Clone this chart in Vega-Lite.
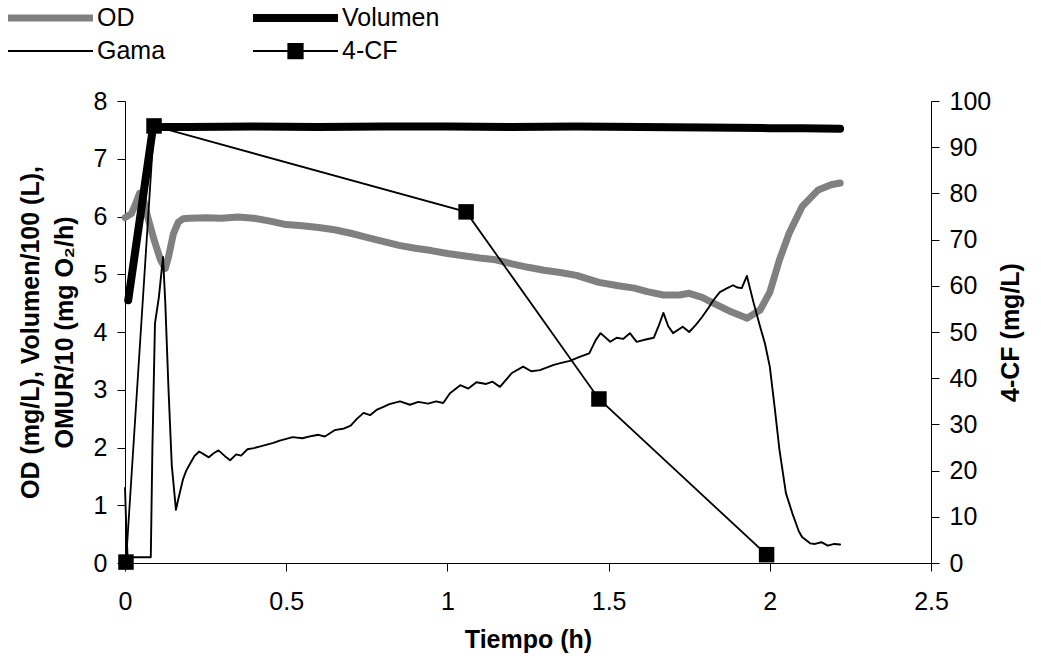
{
  "$schema": "https://vega.github.io/schema/vega-lite/v6.json",
  "width": 806,
  "height": 462,
  "autosize": {"type": "none"},
  "padding": {"left": 125, "top": 101, "right": 110, "bottom": 102},
  "background": "white",
  "config": {
    "view": {"stroke": null},
    "font": "Liberation Sans",
    "axis": {
      "grid": false,
      "domainColor": "#000",
      "tickColor": "#000",
      "labelColor": "#000",
      "titleColor": "#000",
      "labelFont": "Liberation Sans",
      "titleFont": "Liberation Sans",
      "labelFontSize": 25,
      "titleFontSize": 25,
      "titleFontWeight": "bold",
      "tickSize": 8,
      "labelPadding": 10,
      "labelFlush": false
    }
  },
  "datasets": {
    "left": [
      {"t": 0.0, "v": 5.98, "series": "OD"},
      {"t": 0.02, "v": 6.05, "series": "OD"},
      {"t": 0.035, "v": 6.25, "series": "OD"},
      {"t": 0.045, "v": 6.4, "series": "OD"},
      {"t": 0.055, "v": 6.35, "series": "OD"},
      {"t": 0.07, "v": 6.0, "series": "OD"},
      {"t": 0.09, "v": 5.6, "series": "OD"},
      {"t": 0.11, "v": 5.25, "series": "OD"},
      {"t": 0.125, "v": 5.1, "series": "OD"},
      {"t": 0.135, "v": 5.3, "series": "OD"},
      {"t": 0.15, "v": 5.7, "series": "OD"},
      {"t": 0.165, "v": 5.9, "series": "OD"},
      {"t": 0.18, "v": 5.96, "series": "OD"},
      {"t": 0.2, "v": 5.97, "series": "OD"},
      {"t": 0.25, "v": 5.98, "series": "OD"},
      {"t": 0.3, "v": 5.97, "series": "OD"},
      {"t": 0.35, "v": 5.99, "series": "OD"},
      {"t": 0.4, "v": 5.97, "series": "OD"},
      {"t": 0.45, "v": 5.92, "series": "OD"},
      {"t": 0.5, "v": 5.86, "series": "OD"},
      {"t": 0.55, "v": 5.84, "series": "OD"},
      {"t": 0.6, "v": 5.81, "series": "OD"},
      {"t": 0.65, "v": 5.77, "series": "OD"},
      {"t": 0.7, "v": 5.71, "series": "OD"},
      {"t": 0.75, "v": 5.64, "series": "OD"},
      {"t": 0.8, "v": 5.57, "series": "OD"},
      {"t": 0.85, "v": 5.5, "series": "OD"},
      {"t": 0.9, "v": 5.45, "series": "OD"},
      {"t": 0.95, "v": 5.41, "series": "OD"},
      {"t": 1.0, "v": 5.36, "series": "OD"},
      {"t": 1.05, "v": 5.32, "series": "OD"},
      {"t": 1.1, "v": 5.28, "series": "OD"},
      {"t": 1.15, "v": 5.25, "series": "OD"},
      {"t": 1.2, "v": 5.18, "series": "OD"},
      {"t": 1.25, "v": 5.12, "series": "OD"},
      {"t": 1.3, "v": 5.07, "series": "OD"},
      {"t": 1.35, "v": 5.03, "series": "OD"},
      {"t": 1.4, "v": 4.98, "series": "OD"},
      {"t": 1.47, "v": 4.86, "series": "OD"},
      {"t": 1.53, "v": 4.8, "series": "OD"},
      {"t": 1.58, "v": 4.76, "series": "OD"},
      {"t": 1.62, "v": 4.7, "series": "OD"},
      {"t": 1.67, "v": 4.64, "series": "OD"},
      {"t": 1.72, "v": 4.64, "series": "OD"},
      {"t": 1.75, "v": 4.67, "series": "OD"},
      {"t": 1.79, "v": 4.6, "series": "OD"},
      {"t": 1.825, "v": 4.5, "series": "OD"},
      {"t": 1.88, "v": 4.35, "series": "OD"},
      {"t": 1.93, "v": 4.24, "series": "OD"},
      {"t": 1.97, "v": 4.38, "series": "OD"},
      {"t": 2.0, "v": 4.69, "series": "OD"},
      {"t": 2.03, "v": 5.25, "series": "OD"},
      {"t": 2.06, "v": 5.71, "series": "OD"},
      {"t": 2.1, "v": 6.17, "series": "OD"},
      {"t": 2.15, "v": 6.46, "series": "OD"},
      {"t": 2.19, "v": 6.55, "series": "OD"},
      {"t": 2.218, "v": 6.58, "series": "OD"},
      {"t": 0.0, "v": 1.3, "series": "Gama"},
      {"t": 0.004, "v": 0.6, "series": "Gama"},
      {"t": 0.008, "v": 0.1, "series": "Gama"},
      {"t": 0.08, "v": 0.1, "series": "Gama"},
      {"t": 0.085, "v": 2.0, "series": "Gama"},
      {"t": 0.093, "v": 4.15, "series": "Gama"},
      {"t": 0.105, "v": 4.6, "series": "Gama"},
      {"t": 0.118, "v": 5.3, "series": "Gama"},
      {"t": 0.125, "v": 4.5, "series": "Gama"},
      {"t": 0.135, "v": 3.0, "series": "Gama"},
      {"t": 0.145, "v": 1.7, "series": "Gama"},
      {"t": 0.158, "v": 0.92, "series": "Gama"},
      {"t": 0.165, "v": 1.1, "series": "Gama"},
      {"t": 0.18, "v": 1.45, "series": "Gama"},
      {"t": 0.19, "v": 1.6, "series": "Gama"},
      {"t": 0.2, "v": 1.7, "series": "Gama"},
      {"t": 0.215, "v": 1.85, "series": "Gama"},
      {"t": 0.23, "v": 1.93, "series": "Gama"},
      {"t": 0.245, "v": 1.88, "series": "Gama"},
      {"t": 0.26, "v": 1.83, "series": "Gama"},
      {"t": 0.275, "v": 1.9, "series": "Gama"},
      {"t": 0.29, "v": 1.95, "series": "Gama"},
      {"t": 0.31, "v": 1.85, "series": "Gama"},
      {"t": 0.326, "v": 1.78, "series": "Gama"},
      {"t": 0.345, "v": 1.88, "series": "Gama"},
      {"t": 0.36, "v": 1.86, "series": "Gama"},
      {"t": 0.38, "v": 1.97, "series": "Gama"},
      {"t": 0.4, "v": 1.99, "series": "Gama"},
      {"t": 0.42, "v": 2.02, "series": "Gama"},
      {"t": 0.44, "v": 2.05, "series": "Gama"},
      {"t": 0.46, "v": 2.08, "series": "Gama"},
      {"t": 0.48, "v": 2.12, "series": "Gama"},
      {"t": 0.5, "v": 2.15, "series": "Gama"},
      {"t": 0.52, "v": 2.18, "series": "Gama"},
      {"t": 0.55, "v": 2.16, "series": "Gama"},
      {"t": 0.58, "v": 2.2, "series": "Gama"},
      {"t": 0.6, "v": 2.22, "series": "Gama"},
      {"t": 0.62, "v": 2.19, "series": "Gama"},
      {"t": 0.65, "v": 2.3, "series": "Gama"},
      {"t": 0.68, "v": 2.33, "series": "Gama"},
      {"t": 0.7, "v": 2.38, "series": "Gama"},
      {"t": 0.72, "v": 2.5, "series": "Gama"},
      {"t": 0.74, "v": 2.6, "series": "Gama"},
      {"t": 0.76, "v": 2.56, "series": "Gama"},
      {"t": 0.78, "v": 2.65, "series": "Gama"},
      {"t": 0.8, "v": 2.7, "series": "Gama"},
      {"t": 0.82, "v": 2.75, "series": "Gama"},
      {"t": 0.853, "v": 2.8, "series": "Gama"},
      {"t": 0.884, "v": 2.74, "series": "Gama"},
      {"t": 0.91, "v": 2.79, "series": "Gama"},
      {"t": 0.94, "v": 2.76, "series": "Gama"},
      {"t": 0.965, "v": 2.8, "series": "Gama"},
      {"t": 0.987, "v": 2.77, "series": "Gama"},
      {"t": 1.008, "v": 2.94, "series": "Gama"},
      {"t": 1.04, "v": 3.08, "series": "Gama"},
      {"t": 1.065, "v": 3.02, "series": "Gama"},
      {"t": 1.09, "v": 3.13, "series": "Gama"},
      {"t": 1.12, "v": 3.1, "series": "Gama"},
      {"t": 1.14, "v": 3.14, "series": "Gama"},
      {"t": 1.163, "v": 3.05, "series": "Gama"},
      {"t": 1.2, "v": 3.29, "series": "Gama"},
      {"t": 1.235, "v": 3.4, "series": "Gama"},
      {"t": 1.26, "v": 3.32, "series": "Gama"},
      {"t": 1.287, "v": 3.34, "series": "Gama"},
      {"t": 1.33, "v": 3.43, "series": "Gama"},
      {"t": 1.35, "v": 3.46, "series": "Gama"},
      {"t": 1.38, "v": 3.5, "series": "Gama"},
      {"t": 1.41, "v": 3.57, "series": "Gama"},
      {"t": 1.44, "v": 3.63, "series": "Gama"},
      {"t": 1.46, "v": 3.86, "series": "Gama"},
      {"t": 1.475, "v": 3.98, "series": "Gama"},
      {"t": 1.505, "v": 3.83, "series": "Gama"},
      {"t": 1.525, "v": 3.9, "series": "Gama"},
      {"t": 1.545, "v": 3.88, "series": "Gama"},
      {"t": 1.566, "v": 3.98, "series": "Gama"},
      {"t": 1.587, "v": 3.83, "series": "Gama"},
      {"t": 1.615, "v": 3.87, "series": "Gama"},
      {"t": 1.64, "v": 3.9, "series": "Gama"},
      {"t": 1.655, "v": 4.1, "series": "Gama"},
      {"t": 1.67, "v": 4.33, "series": "Gama"},
      {"t": 1.685, "v": 4.1, "series": "Gama"},
      {"t": 1.7, "v": 3.98, "series": "Gama"},
      {"t": 1.73, "v": 4.09, "series": "Gama"},
      {"t": 1.75, "v": 4.0, "series": "Gama"},
      {"t": 1.77, "v": 4.12, "series": "Gama"},
      {"t": 1.79, "v": 4.26, "series": "Gama"},
      {"t": 1.81, "v": 4.42, "series": "Gama"},
      {"t": 1.825, "v": 4.55, "series": "Gama"},
      {"t": 1.845, "v": 4.69, "series": "Gama"},
      {"t": 1.865, "v": 4.75, "series": "Gama"},
      {"t": 1.886, "v": 4.81, "series": "Gama"},
      {"t": 1.9, "v": 4.77, "series": "Gama"},
      {"t": 1.913, "v": 4.76, "series": "Gama"},
      {"t": 1.929, "v": 4.97, "series": "Gama"},
      {"t": 1.95, "v": 4.5, "series": "Gama"},
      {"t": 1.97, "v": 4.09, "series": "Gama"},
      {"t": 1.985, "v": 3.8, "series": "Gama"},
      {"t": 2.0, "v": 3.4, "series": "Gama"},
      {"t": 2.015, "v": 2.7, "series": "Gama"},
      {"t": 2.03, "v": 1.96, "series": "Gama"},
      {"t": 2.05, "v": 1.21, "series": "Gama"},
      {"t": 2.07, "v": 0.86, "series": "Gama"},
      {"t": 2.09, "v": 0.55, "series": "Gama"},
      {"t": 2.1, "v": 0.45, "series": "Gama"},
      {"t": 2.125, "v": 0.34, "series": "Gama"},
      {"t": 2.14, "v": 0.33, "series": "Gama"},
      {"t": 2.16, "v": 0.36, "series": "Gama"},
      {"t": 2.18, "v": 0.3, "series": "Gama"},
      {"t": 2.2, "v": 0.33, "series": "Gama"},
      {"t": 2.218, "v": 0.32, "series": "Gama"},
      {"t": 0.01, "v": 4.55, "series": "Volumen"},
      {"t": 0.087, "v": 7.55, "series": "Volumen"},
      {"t": 0.2, "v": 7.55, "series": "Volumen"},
      {"t": 0.4, "v": 7.56, "series": "Volumen"},
      {"t": 0.6, "v": 7.55, "series": "Volumen"},
      {"t": 0.8, "v": 7.56, "series": "Volumen"},
      {"t": 1.0, "v": 7.56, "series": "Volumen"},
      {"t": 1.2, "v": 7.55, "series": "Volumen"},
      {"t": 1.4, "v": 7.56, "series": "Volumen"},
      {"t": 1.6, "v": 7.55, "series": "Volumen"},
      {"t": 1.8, "v": 7.54, "series": "Volumen"},
      {"t": 2.0, "v": 7.53, "series": "Volumen"},
      {"t": 2.1, "v": 7.53, "series": "Volumen"},
      {"t": 2.218, "v": 7.52, "series": "Volumen"}
    ],
    "cf": [
      {"t": 0.003, "c": 0.2, "series": "4-CF"},
      {"t": 0.09, "c": 94.6, "series": "4-CF"},
      {"t": 1.058, "c": 76.0, "series": "4-CF"},
      {"t": 1.47, "c": 35.5, "series": "4-CF"},
      {"t": 1.99, "c": 1.8, "series": "4-CF"}
    ]
  },
  "layer": [
    {
      "data": {"name": "left"},
      "mark": {"type": "line", "strokeCap": "round", "strokeJoin": "round"},
      "encoding": {
        "x": {
          "field": "t", "type": "quantitative",
          "scale": {"domain": [0, 2.5], "nice": false, "zero": false},
          "axis": {"values": [0, 0.5, 1, 1.5, 2, 2.5], "labelExpr": "datum.value == 0 ? '0' : format(datum.value, '~g')", "labelFlush": false, "title": "Tiempo (h)", "labelPadding": 18, "titlePadding": 13}
        },
        "y": {
          "field": "v", "type": "quantitative",
          "scale": {"domain": [0, 8], "nice": false},
          "axis": {"orient": "left", "values": [0, 1, 2, 3, 4, 5, 6, 7, 8], "labelFlush": false, "title": ["OD (mg/L), Volumen/100 (L),", "OMUR/10 (mg O₂/h)"], "titlePadding": 16, "titleLineHeight": 34}
        },
        "color": {
          "field": "series", "type": "nominal",
          "scale": {"domain": ["OD", "Volumen", "Gama", "4-CF"], "range": ["#808080", "#000000", "#000000", "#000000"]},
          "legend": {
            "orient": "none", "legendX": -121, "legendY": -95, "columns": 2, "direction": "horizontal", "title": null,
            "symbolSize": 7225, "labelFontSize": 25, "labelFont": "Liberation Sans", "labelColor": "#000",
            "clipHeight": 24, "rowPadding": 8, "columnPadding": 83, "labelOffset": 0, "padding": 0,
            "symbolOpacity": 1,
            "encode": {"symbols": {"update": {"fill": {"value": "#000"}, "opacity": {"value": 1}}}}
          }
        },
        "strokeWidth": {
          "field": "series", "type": "nominal",
          "scale": {"type": "ordinal", "domain": ["OD", "Volumen", "Gama", "4-CF"], "range": [7, 8, 1.9, 1.8]},
          "legend": {}
        },
        "detail": {"field": "series"}
      }
    },
    {
      "data": {"name": "cf"},
      "encoding": {
        "x": {"field": "t", "type": "quantitative", "scale": {"domain": [0, 2.5], "nice": false, "zero": false}},
        "y": {
          "field": "c", "type": "quantitative",
          "scale": {"domain": [0, 100], "nice": false},
          "axis": {
            "orient": "right", "values": [0, 10, 20, 30, 40, 50, 60, 70, 80, 90, 100], "labelFlush": false,
            "title": "4-CF (mg/L)", "titleAngle": 270, "titleBaseline": "top", "titlePadding": 8,
            "encode": {"ticks": {"update": {"x": {"value": -8}}}}
          }
        }
      },
      "layer": [
        {
          "mark": {"type": "line", "strokeJoin": "miter"},
          "encoding": {
            "color": {"field": "series", "type": "nominal", "scale": {"domain": ["OD", "Volumen", "Gama", "4-CF"], "range": ["#808080", "#000000", "#000000", "#000000"]}},
            "strokeWidth": {"field": "series", "type": "nominal", "scale": {"type": "ordinal", "domain": ["OD", "Volumen", "Gama", "4-CF"], "range": [7, 8, 1.9, 1.8]}}
          }
        },
        {
          "mark": {"type": "point", "shape": "square", "filled": true, "size": 240, "color": "#000", "opacity": 1}
        },
        {
          "mark": {"type": "point", "filled": true, "opacity": 0},
          "encoding": {
            "shape": {
              "field": "series", "type": "nominal",
              "scale": {"domain": ["OD", "Volumen", "Gama", "4-CF"], "range": ["M-1,0H1", "M-1,0H1", "M-1,0H1", "M-1,0H1M-0.17,-0.17H0.17V0.17H-0.17Z"]},
              "legend": {}
            }
          }
        }
      ]
    }
  ],
  "resolve": {"scale": {"y": "independent"}}
}
